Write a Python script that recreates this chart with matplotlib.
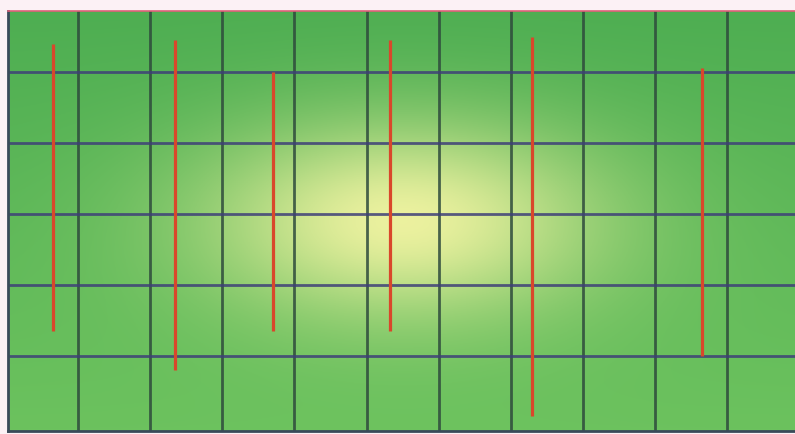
import numpy as np
import matplotlib
matplotlib.use("Agg")
import matplotlib.pyplot as plt

# Red vertical segments (data coords)
seg_x = [0.65, 2.35, 3.7, 5.33, 7.3, 9.65]
seg_low = [1.35, 0.8, 1.35, 1.35, 0.15, 1.0]
seg_high = [5.4, 5.45, 5.0, 5.45, 5.5, 5.05]

# Grid positions
grid_x = [1, 2, 3, 4, 5, 6, 7, 8, 9, 10]
grid_y = [1, 2, 3, 4, 5]

XMIN, XMAX = 0.03, 10.94
YMIN, YMAX = -0.06, 5.86

fig = plt.figure(figsize=(7.95, 4.35), dpi=100, facecolor="#fcf1f5")
ax = fig.add_axes([8 / 795, 3 / 435, 787 / 795, 420 / 435])

# Background: green field with a pale yellow glow in the centre
nx, ny = 400, 220
xs = np.linspace(XMIN, XMAX, nx)
ys = np.linspace(YMIN, YMAX, ny)
X, Y = np.meshgrid(xs, ys)
cx, cy = 5.5, 2.9
t = 0.92 * np.exp(-(((X - cx) / 2.8) ** 2 + ((Y - cy) / 1.4) ** 2))
green_top = np.array([78, 174, 82]) / 255
green_bot = np.array([108, 194, 94]) / 255
fy = (Y - YMIN) / (YMAX - YMIN)
base = green_bot[None, None, :] * (1 - fy[..., None]) + green_top[None, None, :] * fy[..., None]
glow = np.array([248, 246, 165]) / 255
img = base * (1 - t[..., None]) + glow[None, None, :] * t[..., None]
ax.imshow(img, extent=[XMIN, XMAX, YMIN, YMAX], origin="lower", aspect="auto", zorder=0)

for gx in grid_x:
    ax.axvline(gx, color="#2e4a3c", lw=2.0, alpha=0.85, zorder=1)
for gy in grid_y:
    ax.axhline(gy, color="#3e3f78", lw=2.0, alpha=0.85, zorder=1)

ax.vlines(seg_x, seg_low, seg_high, color="#d9472b", lw=2.3, zorder=2)

ax.set_xlim(XMIN, XMAX)
ax.set_ylim(YMIN, YMAX)
ax.set_xticks([])
ax.set_yticks([])
for side in ["left", "bottom"]:
    ax.spines[side].set_color("#3a4a5a")
    ax.spines[side].set_linewidth(2)
ax.spines["top"].set_color("#e0607a")
ax.spines["top"].set_linewidth(1.2)
ax.spines["right"].set_visible(False)

fig.savefig("out.png", dpi=100, facecolor=fig.get_facecolor())
